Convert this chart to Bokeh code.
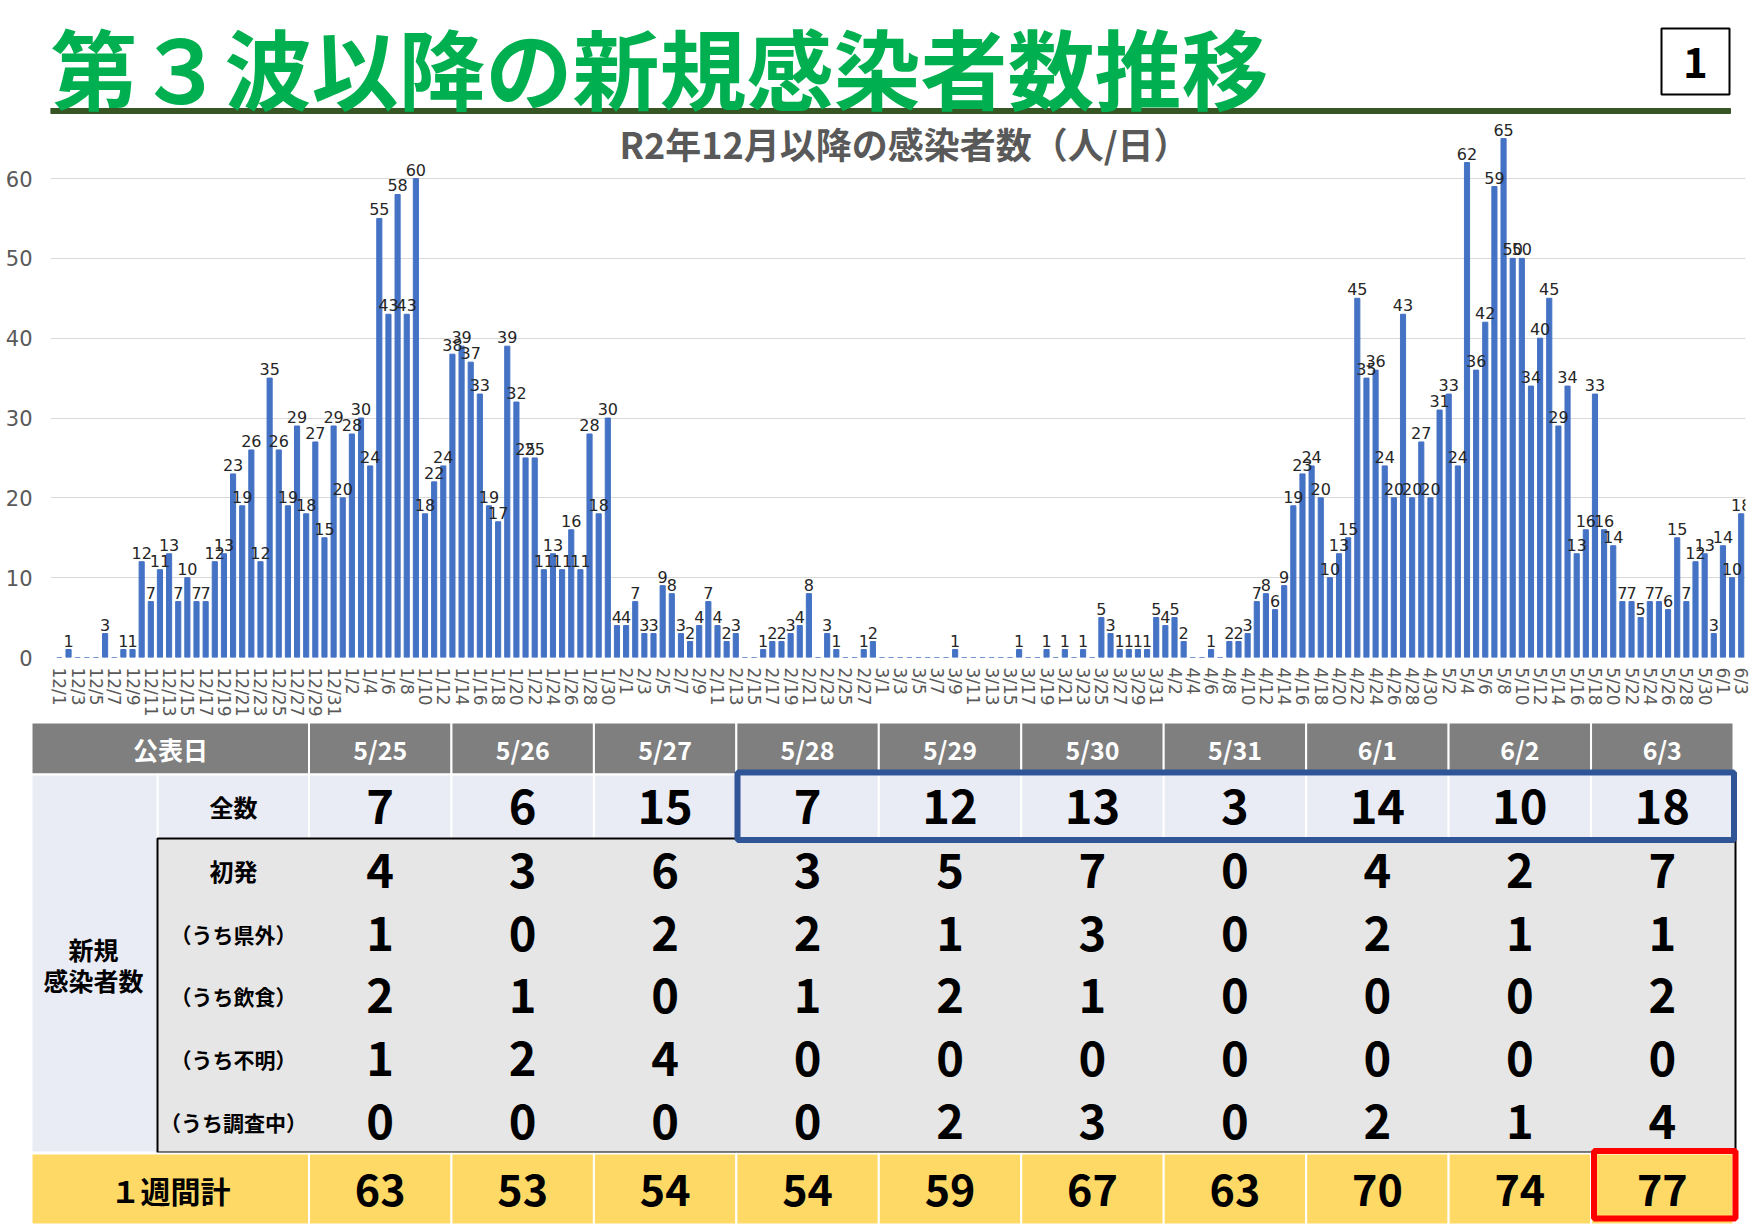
from bokeh.plotting import figure
from bokeh.models import ColumnDataSource, Range1d, FixedTicker
from bokeh.layouts import column
from bokeh.embed import file_html
from bokeh.resources import INLINE
from bokeh.core.properties import value

JP = "Noto Sans CJK JP"
LAT = "DejaVu Sans"
W = 1754

# ---------------- data ----------------
title_text = "第３波以降の新規感染者数推移"
page_no = "1"
subtitle_text = "R2年12月以降の感染者数（人/日）"

dec = [0, 1, 0, 0, 0, 3, 0, 1, 1, 12, 7, 11, 13, 7, 10, 7, 7, 12, 13, 23,
       19, 26, 12, 35, 26, 19, 29, 18, 27, 15, 29]
jan = [20, 28, 30, 24, 55, 43, 58, 43, 60, 18, 22, 24, 38, 39, 37, 33, 19, 17, 39, 32,
       25, 25, 11, 13, 11, 16, 11, 28, 18, 30, 4]
feb = [4, 7, 3, 3, 9, 8, 3, 2, 4, 7, 4, 2, 3, 0, 0, 1, 2, 2, 3, 4,
       8, 0, 3, 1, 0, 0, 1, 2]
mar = [0, 0, 0, 0, 0, 0, 0, 0, 1, 0, 0, 0, 0, 0, 0, 1, 0, 0, 1, 0,
       1, 0, 1, 0, 5, 3, 1, 1, 1, 1, 5]
apr = [4, 5, 2, 0, 0, 1, 0, 2, 2, 3, 7, 8, 6, 9, 19, 23, 24, 20, 10, 13,
       15, 45, 35, 36, 24, 20, 43, 20, 27, 20]
may = [31, 33, 24, 62, 36, 42, 59, 65, 50, 50, 34, 40, 45, 29, 34, 13, 16, 33, 16, 14,
       7, 7, 5, 7, 7, 6, 15, 7, 12, 13, 3]
jun = [14, 10, 18]
month_series = [(12, dec), (1, jan), (2, feb), (3, mar), (4, apr), (5, may), (6, jun)]

table_row_header = "公表日"
table_dates = ["5/25", "5/26", "5/27", "5/28", "5/29", "5/30", "5/31", "6/1", "6/2", "6/3"]
row_total = [7, 6, 15, 7, 12, 13, 3, 14, 10, 18]
row_first = [4, 3, 6, 3, 5, 7, 0, 4, 2, 7]
row_outside = [1, 0, 2, 2, 1, 3, 0, 2, 1, 1]
row_dining = [2, 1, 0, 1, 2, 1, 0, 0, 0, 2]
row_unknown = [1, 2, 4, 0, 0, 0, 0, 0, 0, 0]
row_investigating = [0, 0, 0, 0, 2, 3, 0, 2, 1, 4]
row_weekly = [63, 53, 54, 54, 59, 67, 63, 70, 74, 77]
row_labels = ["全数", "初発", "（うち県外）", "（うち飲食）", "（うち不明）", "（うち調査中）"]
group_label = ["新規", "感染者数"]
weekly_label = "１週間計"

dates = []
cases = []
for m, vals in month_series:
    for d, v in enumerate(vals, 1):
        dates.append(f"{m}/{d}")
        cases.append(v)
idx = list(range(len(dates)))

# ---------------- chart (frame reaches the page top; header drawn inside it) ----------------
CH_H = 720
F_LEFT, F_RIGHT, F_BOTTOM = 50, 1745, 657
X0, X1 = -0.974, 184.47
PX_PER_UNIT = 7.983
Y1 = F_BOTTOM / PX_PER_UNIT


def px2x(px):
    return X0 + (px - F_LEFT) * (X1 - X0) / (F_RIGHT - F_LEFT)


def py2y(py):
    return (F_BOTTOM - py) / PX_PER_UNIT


chart = figure(width=W, height=CH_H, x_range=Range1d(X0, X1), y_range=Range1d(0, Y1),
               output_backend="svg", toolbar_location=None, frame_align=False,
               min_border_left=F_LEFT, min_border_right=W - F_RIGHT, min_border_top=0,
               min_border_bottom=CH_H - F_BOTTOM)
chart.outline_line_color = None
chart.xgrid.visible = False
yt = [0, 10, 20, 30, 40, 50, 60]
chart.ygrid.ticker = FixedTicker(ticks=yt)
chart.ygrid.grid_line_color = "#D9D9D9"
chart.ygrid.grid_line_width = 1
chart.yaxis.ticker = FixedTicker(ticks=yt)
chart.yaxis.axis_line_color = None
chart.yaxis.major_tick_line_color = None
chart.yaxis.minor_tick_line_color = None
chart.yaxis.major_label_text_font = LAT
chart.yaxis.major_label_text_font_size = "21px"
chart.yaxis.major_label_text_color = "#595959"
chart.yaxis.major_label_standoff = 12

xt = list(range(0, len(dates), 2))
chart.xaxis.ticker = FixedTicker(ticks=xt)
chart.xaxis.major_label_overrides = {i: dates[i] for i in xt}
chart.xaxis.major_label_orientation = "vertical"
chart.xaxis.axis_line_color = None
chart.xaxis.major_tick_line_color = None
chart.xaxis.minor_tick_line_color = None
chart.xaxis.major_label_text_font = LAT
chart.xaxis.major_label_text_font_size = "17px"
chart.xaxis.major_label_text_color = "#595959"
chart.xaxis.major_label_standoff = 4

src = ColumnDataSource(dict(x=idx, y=cases, lab=[str(v) if v else "" for v in cases]))
chart.vbar(x="x", top="y", width=0.56, source=src, color="#4472C4")
chart.text(x="x", y="y", text="lab", source=src, text_align="center", text_baseline="bottom",
           y_offset=-3, text_font=value(LAT), text_font_size="16px", text_color="#262626")
chart.text(x=[px2x(904)], y=[py2y(142)], text=[subtitle_text], text_font=value(JP),
           text_font_style="bold", text_font_size="36px", text_color="#595959",
           text_align="center", text_baseline="middle")

# page header
chart.quad(left=[X0], right=[px2x(1730)], top=[py2y(108)], bottom=[py2y(113)],
           color="#375623")
chart.quad(left=[px2x(1661)], right=[px2x(1729)], top=[py2y(28)], bottom=[py2y(94)],
           fill_color="white", line_color="black", line_width=2)
chart.text(x=[X0], y=[py2y(65)], text=[title_text], text_font=value(JP), text_font_style="bold",
           text_font_size="87px", text_color="#00B050", text_align="left",
           text_baseline="middle")
chart.text(x=[px2x(1695)], y=[py2y(62)], text=[page_no], text_font=value(JP),
           text_font_style="bold", text_font_size="42px", text_color="black",
           text_align="center", text_baseline="middle")

# ---------------- table ----------------
T0 = CH_H
TB_H = 1228 - T0
table = figure(width=W, height=TB_H, x_range=Range1d(0, W), y_range=Range1d(1228, T0),
               output_backend="svg", toolbar_location=None, frame_align=False,
               min_border=0, min_border_left=0, min_border_right=0,
               min_border_top=0, min_border_bottom=0)
table.axis.visible = False
table.grid.visible = False
table.outline_line_color = None

n = len(table_dates)
cw = (1733.0 - 308.5) / n
lefts = [308.5 + cw * j for j in range(n)]
rights = [l + cw for l in lefts]
centers = [l + cw / 2 for l in lefts]

# header row
table.quad(left=[31] + lefts, right=[308.5] + rights, top=[722] * (n + 1), bottom=[774] * (n + 1),
           fill_color="#7F7F7F", line_color="white", line_width=2)
# total row
table.quad(left=[157] + lefts, right=[308.5] + rights, top=[774] * (n + 1), bottom=[838] * (n + 1),
           fill_color="#E9EBF5", line_color="white", line_width=2)
# left group cell
table.quad(left=[31], right=[157], top=[774], bottom=[1152], fill_color="#E9EBF5",
           line_color="white", line_width=2)
# grey block
table.quad(left=[157], right=[1735], top=[838], bottom=[1152], fill_color="#E7E6E6",
           line_color="black", line_width=2)
# weekly row
table.quad(left=[31] + lefts, right=[308.5] + rights, top=[1153] * (n + 1), bottom=[1224] * (n + 1),
           fill_color="#FFD966", line_color="white", line_width=2)
# highlight boxes
table.quad(left=[737], right=[1733.5], top=[772], bottom=[839.5], fill_color=None,
           line_color="#2F5597", line_width=6)
table.quad(left=[1593.5], right=[1735], top=[1150.5], bottom=[1218], fill_color=None,
           line_color="#FF0000", line_width=6)


def txt(xs, ys, ts, size, color="black", bold=True):
    table.text(x=xs, y=ys, text=ts, text_font=value(JP),
               text_font_style="bold" if bold else "normal", text_font_size=size,
               text_color=color, text_align="center", text_baseline="middle")


txt([170] + centers, [748] * (n + 1), [table_row_header] + table_dates, "25px", color="white")

row_y = [806, 870, 933, 995, 1058, 1121]
rows = [row_total, row_first, row_outside, row_dining, row_unknown, row_investigating]
for lab, y, vals in zip(row_labels, row_y, rows):
    txt([233], [y], [lab], "24px" if len(lab) <= 2 else "21px")
    txt(centers, [y] * n, [str(v) for v in vals], "47px")

txt([93, 93], [948, 979], group_label, "25px")
txt([170], [1189], [weekly_label], "30px")
txt(centers, [1189] * n, [str(v) for v in row_weekly], "43px")

layout = column(chart, table, spacing=0)
open("out.html", "w").write(file_html(layout, INLINE))
